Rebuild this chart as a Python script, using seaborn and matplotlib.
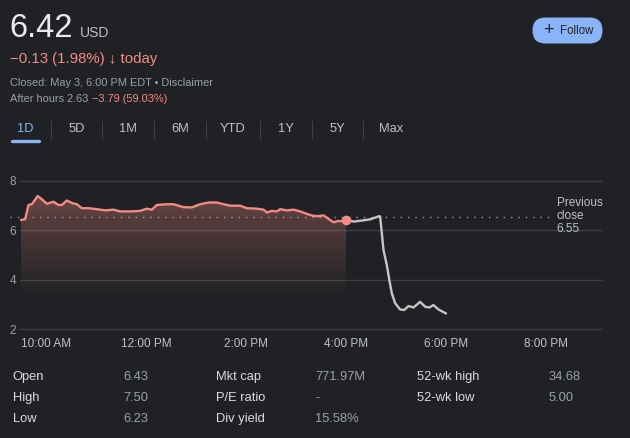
import numpy as np
import pandas as pd
import matplotlib
matplotlib.use("Agg")
import matplotlib.pyplot as plt
import matplotlib.transforms as mtransforms
from matplotlib.patches import FancyBboxPatch
from matplotlib.lines import Line2D
import seaborn as sns

# ---------------- data ----------------
regular_times = ["9:30", "9:35", "9:39", "9:43", "9:50", "9:55", "10:01", "10:09", "10:15", "10:19",
                 "10:25", "10:31", "10:37", "10:43", "10:51", "11:01", "11:11", "11:21", "11:29", "11:41",
                 "11:53", "12:01", "12:07", "12:13", "12:25", "12:33", "12:45", "12:55", "13:05", "13:15",
                 "13:25", "13:33", "13:41", "13:53", "14:01", "14:13", "14:21", "14:25", "14:31", "14:37",
                 "14:41", "14:49", "14:57", "15:05", "15:13", "15:21", "15:27", "15:33", "15:45", "15:50",
                 "15:56", "16:00"]
regular_prices = [6.41, 6.45, 7.02, 7.05, 7.38, 7.25, 7.07, 7.15, 7.02, 7.02,
                  7.20, 7.10, 7.05, 6.89, 6.89, 6.85, 6.80, 6.83, 6.76, 6.76,
                  6.78, 6.87, 6.83, 7.02, 7.05, 7.05, 6.93, 6.92, 7.05, 7.12,
                  7.12, 7.05, 6.99, 6.99, 6.89, 6.87, 6.83, 6.72, 6.78, 6.76,
                  6.85, 6.80, 6.83, 6.76, 6.66, 6.58, 6.57, 6.60, 6.32, 6.37,
                  6.37, 6.42]

after_times = ["16:00", "16:09", "16:17", "16:29", "16:40", "16:41", "16:45", "16:49", "16:52", "16:55",
               "16:59", "17:05", "17:10", "17:15", "17:21", "17:29", "17:35", "17:40", "17:45", "17:51",
               "18:00"]
after_prices = [6.42, 6.35, 6.38, 6.44, 6.57, 6.55, 5.20, 4.59, 3.99, 3.45,
                3.05, 2.80, 2.78, 2.94, 2.88, 3.11, 2.91, 2.88, 2.98, 2.80,
                2.64]

previous_close = 6.55
y_ticks = [2, 4, 6, 8]
x_tick_hours = [10, 12, 14, 16, 18, 20]
x_tick_labels = ["10:00 AM", "12:00 PM", "2:00 PM", "4:00 PM", "6:00 PM", "8:00 PM"]

tabs = ["1D", "5D", "1M", "6M", "YTD", "1Y", "5Y", "Max"]

stat_labels_1 = ["Open", "High", "Low"]
stat_values_1 = ["6.43", "7.50", "6.23"]
stat_labels_2 = ["Mkt cap", "P/E ratio", "Div yield"]
stat_values_2 = ["771.97M", "-", "15.58%"]
stat_labels_3 = ["52-wk high", "52-wk low"]
stat_values_3 = ["34.68", "5.00"]


def to_hours(t):
    h, m = t.split(":")
    return int(h) + int(m) / 60.0


df = pd.concat([
    pd.DataFrame({"time": [to_hours(t) for t in regular_times], "price": regular_prices, "session": "regular"}),
    pd.DataFrame({"time": [to_hours(t) for t in after_times], "price": after_prices, "session": "after"}),
], ignore_index=True)

# ---------------- style ----------------
BG = "#202124"
GRID = "#3c4043"
RED = "#f28b82"
GREY_LINE = "#c4c7c5"
TXT = "#bdc1c6"
TXT2 = "#9aa0a6"
BLUE = "#8ab4f8"

sns.set_theme(style="dark", rc={"figure.facecolor": BG, "axes.facecolor": BG})
plt.rcParams["font.family"] = ["Liberation Sans", "DejaVu Sans"]

W, H = 630, 438
fig = plt.figure(figsize=(W / 100, H / 100), dpi=100)
fig.patch.set_facecolor(BG)
px = mtransforms.Affine2D().scale(1 / W, -1 / H).translate(0, 1) + fig.transFigure

# axes: x 20..602 px, y(8)=180.7 px, y(2)=329.3 px
ax = fig.add_axes([20 / W, (H - 329.3) / H, 582 / W, 148.6 / H])
ax.set_facecolor(BG)
ax.set_xlim(9.48, 21.12)
ax.set_ylim(2, 8)

for yv in y_ticks:
    ax.axhline(yv, color=GRID, lw=1.0, zorder=0.5, clip_on=False)

# gradient fill under regular session
reg = df[df.session == "regular"]
poly = ax.fill_between(reg["time"], reg["price"], 2, color="none", lw=0)
grad_h = 256
top_v, fade_v = 7.4, 3.2
vals = np.linspace(2, top_v, grad_h)[:, None]
a = np.clip((vals - fade_v) / (top_v - fade_v), 0, 1) ** 1.1 * 0.34
rgba = np.zeros((grad_h, 1, 4))
rgba[..., 0], rgba[..., 1], rgba[..., 2] = 0.95, 0.55, 0.51
rgba[..., 3] = a
im = ax.imshow(rgba, extent=[reg["time"].min(), reg["time"].max(), 2, top_v], origin="lower",
               aspect="auto", zorder=1, interpolation="bilinear")
path = poly.get_paths()[0]
im.set_clip_path(path, transform=ax.transData)

# previous close dotted
ax.plot([9.28, 20.12], [previous_close] * 2, color=TXT2, lw=1.0, ls=(0, (1.0, 4.3)),
        zorder=1.5, clip_on=False)

sns.lineplot(data=df, x="time", y="price", hue="session", palette={"regular": RED, "after": GREY_LINE},
             estimator=None, sort=False, lw=1.7, legend=False, ax=ax, zorder=3)
ax.plot([to_hours("16:00")], [regular_prices[-1]], "o", color=RED, ms=6, zorder=4)

ax.set_xticks(x_tick_hours)
ax.set_xticklabels(x_tick_labels)
ax.set_yticks(y_ticks)
ax.set_yticklabels([str(v) for v in y_ticks])
ax.tick_params(axis="x", length=0, pad=6, labelsize=8.5, colors=TXT)
ax.tick_params(axis="y", length=0, pad=3, labelsize=8.5, colors=TXT2)
ax.set_xlabel("")
ax.set_ylabel("")
ax.grid(False)
for s in ax.spines.values():
    s.set_visible(False)

# previous close label
for i, t in enumerate(["Previous", "close", "6.55"]):
    fig.text(556.5, 202.7 + i * 13.4, t, transform=px, color=TXT, fontsize=8.5, va="center", ha="left")

# ---------------- header ----------------
fig.text(9, 37, "6.42", transform=px, color="#e8eaed", fontsize=23.5, va="baseline")
fig.text(80, 37, "USD", transform=px, color=TXT, fontsize=10, va="baseline")
fig.text(10, 63, "\u22120.13 (1.98%) \u2193 today", transform=px, color=RED, fontsize=10.8, va="baseline")
fig.text(10, 86, "Closed: May 3, 6:00 PM EDT \u2022 Disclaimer", transform=px, color=TXT2, fontsize=7.9,
         va="baseline")
fig.text(10, 102, "After hours 2.63", transform=px, color=TXT2, fontsize=7.9, va="baseline")
fig.text(92, 102, "\u22123.79 (59.03%)", transform=px, color=RED, fontsize=7.9, va="baseline")

# follow button
btn = FancyBboxPatch((532.5, 17.5), 70, 26, boxstyle="round,pad=0,rounding_size=13",
                     transform=px, facecolor=BLUE, edgecolor="none")
fig.add_artist(btn)
fig.text(548, 30.3, "+", transform=px, color=BG, fontsize=13, va="center", ha="center")
fig.text(560, 30.8, "Follow", transform=px, color=BG, fontsize=8.3, va="center", ha="left")

# tabs
tab_x = [25, 76.7, 128.3, 180, 233, 286, 337, 390.7]
sep_x = [50.7, 102, 153.7, 205.7, 260, 312, 363.3]
for tx, lab in zip(tab_x, tabs):
    fig.text(tx, 131.7, lab, transform=px, color=BLUE if lab == "1D" else TXT, fontsize=9.3,
             va="baseline", ha="center")
for sx in sep_x:
    fig.add_artist(Line2D([sx, sx], [121, 139], transform=px, color=GRID, lw=0.8))
fig.add_artist(Line2D([11.5, 38.5], [140.5, 140.5], transform=px, color=BLUE, lw=2.4,
                      solid_capstyle="round"))

# stats table
row_y = [376.7, 398.3, 419.3]
cols = [(12.5, 123, stat_labels_1, stat_values_1),
        (215.5, 315, stat_labels_2, stat_values_2),
        (417, 548.3, stat_labels_3, stat_values_3)]
for lx, vx, labs, vals_ in cols:
    for yy, l, v in zip(row_y, labs, vals_):
        fig.text(lx, yy, l, transform=px, color="#dadce0", fontsize=9.3, va="center", ha="left")
        fig.text(vx, yy, v, transform=px, color=TXT2, fontsize=9.3, va="center", ha="left")

fig.savefig("out.png", dpi=100, facecolor=BG)
